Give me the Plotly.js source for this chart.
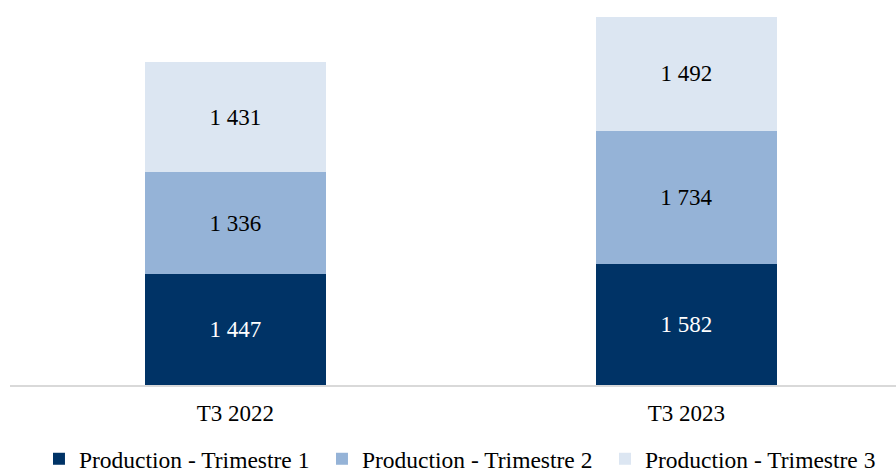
<!DOCTYPE html>
<html>
<head>
<meta charset="utf-8">
<script src="https://cdn.plot.ly/plotly-3.0.1.min.js"></script>
<style>html,body{margin:0;padding:0;background:#fff;}#chart{width:896px;height:475px;}</style>
</head>
<body>
<div id="chart"></div>
<script>
const categories = ["T3 2022", "T3 2023"];
const seriesNames = ["Production - Trimestre 1", "Production - Trimestre 2", "Production - Trimestre 3"];
const trimestre1 = [1447, 1582];
const trimestre2 = [1336, 1734];
const trimestre3 = [1431, 1492];

const colors = ["#003366", "#95B3D7", "#DCE6F2"];
const labelColors = ["#ffffff", "#000000", "#000000"];
const FONT = "Liberation Serif, Times New Roman, serif";

const values = [trimestre1, trimestre2, trimestre3];
const traces = values.map((v, i) => ({
  type: "bar",
  name: seriesNames[i],
  x: categories,
  y: v,
  width: 0.4,
  marker: { color: colors[i], line: { width: 0 } },
  texttemplate: "%{y:,}",
  textposition: "inside",
  insidetextanchor: "middle",
  textangle: 0,
  textfont: { family: FONT, size: 23, color: labelColors[i] },
  hoverinfo: "skip"
}));

const layout = {
  width: 896,
  height: 475,
  margin: { l: 10, r: 0, t: 10, b: 90, autoexpand: false },
  barmode: "stack",
  separators: ", ",
  paper_bgcolor: "#ffffff",
  plot_bgcolor: "#ffffff",
  font: { family: FONT, size: 23, color: "#000000" },
  xaxis: {
    range: [-0.5, 1.465],
    showline: true,
    linecolor: "#d9d9d9",
    linewidth: 2,
    ticks: "outside",
    ticklen: 6,
    tickcolor: "rgba(0,0,0,0)",
    tickfont: { family: FONT, size: 23, color: "#000000" },
    showgrid: false,
    zeroline: false,
    fixedrange: true
  },
  yaxis: {
    range: [0, 4896],
    visible: false,
    showgrid: false,
    zeroline: false
  },
  showlegend: true,
  legend: {
    orientation: "h",
    x: 0.0327,
    xanchor: "left",
    y: -0.1973,
    yanchor: "middle",
    traceorder: "normal",
    entrywidth: 238,
    entrywidthmode: "pixels",
    font: { family: FONT, size: 23.5, color: "#000000" },
    bgcolor: "rgba(0,0,0,0)"
  }
};

Plotly.newPlot("chart", traces, layout, { displayModeBar: false, staticPlot: true });
</script>
</body>
</html>
